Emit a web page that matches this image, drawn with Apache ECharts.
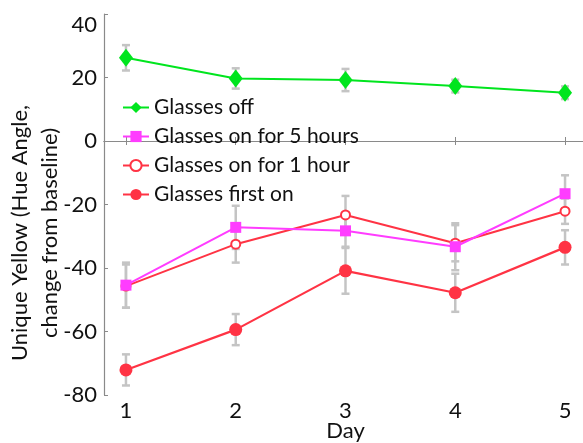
<!DOCTYPE html>
<html><head><meta charset="utf-8">
<script src="https://cdn.jsdelivr.net/npm/echarts@6/dist/echarts.min.js"></script>
<style>html,body{margin:0;padding:0;background:#fff}#c{width:583px;height:443px}</style>
</head><body><div id="c"></div>
<script>
const days = [1, 2, 3, 4, 5];
const yTicks = [-80, -60, -40, -20, 0, 20, 40];
const seriesNames = ['Glasses off', 'Glasses on for 5 hours', 'Glasses on for 1 hour', 'Glasses first on'];
const glassesOff = [26.2, 19.7, 19.2, 17.3, 15.2];
const glassesOffErr = [4.0, 3.2, 3.5, 2.0, 2.0];
const on5h = [-45.4, -27.2, -28.3, -33.3, -16.6];
const on5hErr = [7.1, 6.8, 5.0, 7.4, 5.8];
const on1h = [-45.7, -32.5, -23.3, -32.2, -22.1];
const on1hErr = [6.8, 5.8, 6.0, 5.7, 4.0];
const firstOn = [-72.1, -59.4, -40.9, -47.8, -33.5];
const firstOnErr = [4.9, 4.9, 7.2, 6.0, 5.4];

const FONT = 'Lato, "Open Sans", sans-serif';
const GREEN = '#00e51e', MAGENTA = '#ff3cff', RED = '#ff3344', GRAY = '#c4c4c4';

function pts(vals) { return days.map((d, i) => [d, vals[i]]); }
function errs(vals, e) { return days.map((d, i) => [d, vals[i] - e[i], vals[i] + e[i]]); }

function renderErr(params, api) {
  const x = api.value(0), lo = api.value(1), hi = api.value(2);
  const a = api.coord([x, hi]), b = api.coord([x, lo]);
  const w = 4;
  const st = { stroke: GRAY, lineWidth: 2.5 };
  return { type: 'group', children: [
    { type: 'line', shape: { x1: a[0], y1: a[1], x2: b[0], y2: b[1] }, style: st },
    { type: 'line', shape: { x1: a[0] - w, y1: a[1], x2: a[0] + w, y2: a[1] }, style: st },
    { type: 'line', shape: { x1: b[0] - w, y1: b[1], x2: b[0] + w, y2: b[1] }, style: st }
  ]};
}
function errSeries(vals, e) {
  return { type: 'custom', renderItem: renderErr, data: errs(vals, e), z: 1, silent: true,
           encode: { x: 0, y: [1, 2] } };
}

const axisCommon = {
  type: 'value',
  axisLine: { show: true, lineStyle: { color: '#8a8a8a', width: 1.2 } },
  axisTick: { show: true, inside: true, length: 4, lineStyle: { color: '#8a8a8a' } },
  splitLine: { show: false }
};

const chart = echarts.init(document.getElementById('c'), null, { renderer: 'canvas' });
chart.setOption({
  animation: false,
  textStyle: { fontFamily: FONT },
  grid: { left: 104, top: 14, width: 483, height: 381, containLabel: false, outerBoundsMode: 'none' },
  xAxis: [
    Object.assign({}, axisCommon, {
      min: 0.8, max: 5.2, position: 'bottom',
      axisTick: Object.assign({}, axisCommon.axisTick, { customValues: days }),
      axisLabel: { customValues: days, color: '#111', fontSize: 22, margin: 5, fontFamily: FONT },
      name: 'Day', nameLocation: 'middle', nameGap: 25, nameMoveOverlap: false,
      nameTextStyle: { color: '#111', fontSize: 22, fontFamily: FONT }
    }),
    Object.assign({}, axisCommon, {
      min: 0.8, max: 5.2, position: 'top',
      axisTick: Object.assign({}, axisCommon.axisTick, { customValues: days }),
      axisLabel: { show: false }
    })
  ],
  yAxis: [
    Object.assign({}, axisCommon, {
      min: yTicks[0], max: yTicks[yTicks.length - 1], interval: 20, position: 'left',
      axisLabel: { color: '#111', fontSize: 22, margin: 7, fontFamily: FONT, verticalAlignMaxLabel: 'top' }
    }),
    Object.assign({}, axisCommon, {
      min: yTicks[0], max: yTicks[yTicks.length - 1], interval: 20, position: 'right',
      axisLabel: { show: false }
    })
  ],
  legend: {
    orient: 'vertical', left: 117, top: 92,
    data: seriesNames,
    itemWidth: 26, itemHeight: 14, itemGap: 8,
    textStyle: { fontSize: 21, color: '#111', fontFamily: FONT, lineHeight: 21 }
  },
  graphic: [{
    type: 'text', x: 35, y: 233, rotation: Math.PI / 2,
    style: { text: 'Unique Yellow (Hue Angle,\nchange from baseline)', fontSize: 22, lineHeight: 30,
             fontFamily: FONT, fill: '#111', align: 'center', verticalAlign: 'middle' }
  }],
  series: [
    errSeries(firstOn, firstOnErr),
    errSeries(on1h, on1hErr),
    errSeries(on5h, on5hErr),
    errSeries(glassesOff, glassesOffErr),
    { name: seriesNames[3], type: 'line', data: pts(firstOn), z: 3,
      symbol: 'circle', symbolSize: 13, itemStyle: { color: RED }, lineStyle: { color: RED, width: 2.2 } },
    { name: seriesNames[2], type: 'line', data: pts(on1h), z: 4,
      symbol: 'emptyCircle', symbolSize: 9, itemStyle: { color: RED, borderColor: RED, borderWidth: 1.6 },
      lineStyle: { color: RED, width: 2 } },
    { name: seriesNames[1], type: 'line', data: pts(on5h), z: 5,
      symbol: 'rect', symbolSize: 11, itemStyle: { color: MAGENTA }, lineStyle: { color: MAGENTA, width: 2 } },
    { name: seriesNames[0], type: 'line', data: pts(glassesOff), z: 6,
      symbol: 'diamond', symbolSize: [14, 18], itemStyle: { color: GREEN }, lineStyle: { color: GREEN, width: 2 } }
  ]
});
</script></body></html>
